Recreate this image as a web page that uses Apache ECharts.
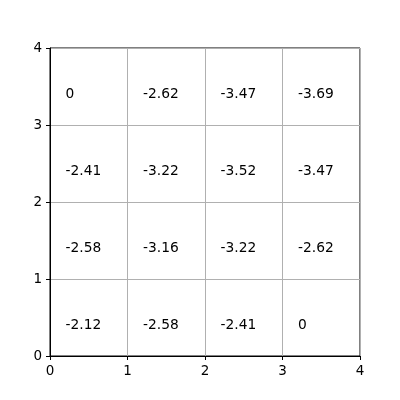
<!DOCTYPE html>
<html><head><meta charset="utf-8">
<script src="https://cdn.jsdelivr.net/npm/echarts@6/dist/echarts.min.js"></script>
<style>html,body{margin:0;padding:0;background:#fff}#c{width:400px;height:400px}</style>
</head><body><div id="c"></div>
<script>
const rowsY = [3, 2, 1, 0];
const colsX = [0, 1, 2, 3];
const row3 = [0, -2.62, -3.47, -3.69];
const row2 = [-2.41, -3.22, -3.52, -3.47];
const row1 = [-2.58, -3.16, -3.22, -2.62];
const row0 = [-2.12, -2.58, -2.41, 0];
const tickLabels = ['0', '1', '2', '3', '4'];
const rows = [row3, row2, row1, row0];
const data = [];
rows.forEach((r, ri) => r.forEach((v, ci) => data.push([colsX[ci] + 0.2, rowsY[ri] + 0.4, v])));
const font = 'DejaVu Sans';
const axisCommon = {
  type: 'value', min: 0, max: 4, interval: 1,
  axisLine: { show: true, onZero: false, lineStyle: { color: '#000', width: 1 } },
  axisTick: { show: true, inside: false, length: 4, lineStyle: { color: '#000' } },
  axisLabel: { color: '#000', fontFamily: font, fontSize: 13.5, formatter: v => tickLabels[v] },
  splitLine: { show: true, lineStyle: { color: '#b0b0b0', width: 1 } }
};
const chart = echarts.init(document.getElementById('c'), null, { renderer: 'canvas' });
chart.setOption({
  animation: false,
  grid: { left: 50, top: 48, width: 310, height: 308, show: true, borderColor: '#000', borderWidth: 1, backgroundColor: 'transparent' },
  xAxis: Object.assign({}, axisCommon, { axisLabel: Object.assign({}, axisCommon.axisLabel, { margin: 8 }) }),
  yAxis: Object.assign({}, axisCommon, { axisLabel: Object.assign({}, axisCommon.axisLabel, { margin: 8 }) }),
  series: [{
    type: 'scatter', data: data, symbolSize: 0, silent: true,
    itemStyle: { opacity: 1 },
    label: { show: true, position: 'right', distance: 0, color: '#000', opacity: 1, fontFamily: font, fontSize: 13.8,
      textBorderWidth: 0, formatter: p => String(p.value[2]) }
  }]
});
</script></body></html>
